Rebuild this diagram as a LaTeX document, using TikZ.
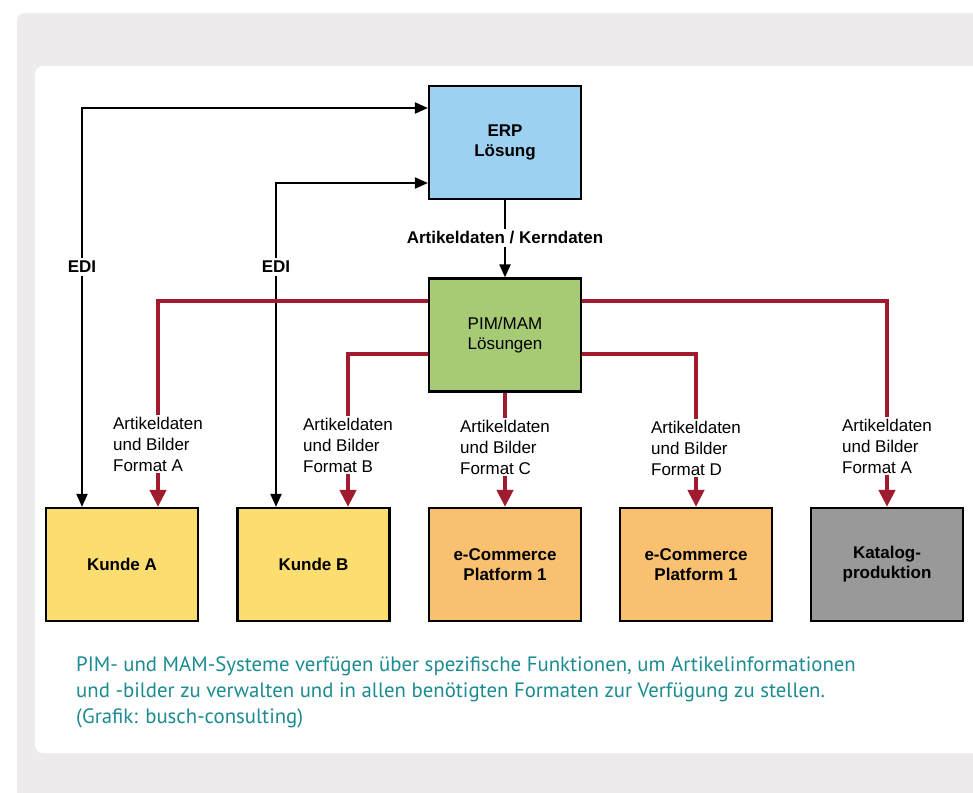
\documentclass[tikz,border=0pt]{standalone}
\usepackage{fontspec}
\setmainfont{Liberation Sans}
\newfontfamily\capfont{PT Sans}
\usetikzlibrary{arrows.meta}
\definecolor{bggray}{RGB}{237,235,236}
\definecolor{erpblue}{RGB}{157,209,241}
\definecolor{pimgreen}{RGB}{166,203,116}
\definecolor{kundeyellow}{RGB}{253,221,112}
\definecolor{ecorange}{RGB}{249,192,112}
\definecolor{katgray}{RGB}{153,153,153}
\definecolor{darkred}{RGB}{161,27,47}
\definecolor{capteal}{RGB}{28,140,145}
\tikzset{
  box/.style={draw=black, line width=2.2pt, minimum width=152pt, minimum height=113pt, inner sep=0pt, align=center, font=\fontsize{17}{20}\selectfont\bfseries},
  blk/.style={draw=black, line width=2pt},
  redl/.style={draw=darkred, line width=4.3pt},
  btip/.style={-{Triangle[length=13pt,width=11pt]}},
  rtip/.style={-{Triangle[length=17pt,width=16pt]}},
  lbl/.style={fill=white, align=left, inner sep=2pt, font=\fontsize{17}{21}\selectfont},
  edilbl/.style={fill=white, inner sep=3pt, font=\fontsize{17}{20}\selectfont\bfseries},
}
\begin{document}
\begin{tikzpicture}[x=1pt,y=-1pt]
\useasboundingbox (0,0) rectangle (973,792);
\begin{scope}
\clip (0,0) rectangle (973,792);
\fill[bggray, rounded corners=8pt] (17,13) rectangle (1010,820);
\fill[white, rounded corners=8pt] (35,66) rectangle (1010,753);
\end{scope}

% nodes
\node[box, fill=erpblue] (erp) at (505,142.5) {ERP\\Lösung};
\node[box, fill=pimgreen, font=\fontsize{17}{20}\selectfont] (pim) at (505,335) {PIM/MAM\\Lösungen};
\node[box, fill=kundeyellow] (kA) at (122,564.5) {Kunde A};
\node[box, fill=kundeyellow] (kB) at (313.5,564.5) {Kunde B};
\node[box, fill=ecorange] (ec1) at (505,564.5) {e-Commerce\\Platform 1};
\node[box, fill=ecorange] (ec2) at (696,564.5) {e-Commerce\\Platform 1};
\node[box, fill=katgray] (kat) at (887,564.5) {Katalog-\\produktion};

% black EDI connectors
\draw[blk, {Triangle[length=13pt,width=11pt]}-{Triangle[length=13pt,width=11pt]}] ([xshift=-40pt]kA.north) |- ([yshift=34.5pt]erp.west);
\draw[blk, {Triangle[length=13pt,width=11pt]}-{Triangle[length=13pt,width=11pt]}] ([xshift=-37.5pt]kB.north) |- ([yshift=-40.5pt]erp.west);
\node[edilbl] (edi1) at (82,267) {EDI};
\node[edilbl] (edi2) at (276,267) {EDI};

% ERP -> PIM
\draw[blk, btip] (erp.south) -- (pim.north);
\node[fill=white, inner sep=3pt, font=\fontsize{17}{20}\selectfont\bfseries] (kern) at (505,238) {Artikeldaten / Kerndaten};

% red connectors
\draw[redl, rtip] ([yshift=34pt]pim.west) -| ([xshift=36pt]kA.north);
\draw[redl, rtip] ([yshift=-19pt]pim.west) -| ([xshift=34.5pt]kB.north);
\draw[redl, rtip] (pim.south) -- (ec1.north);
\draw[redl, rtip] ([yshift=-19pt]pim.east) -| (ec2.north);
\draw[redl, rtip] ([yshift=34pt]pim.east) -| (kat.north);

\node[lbl] (lA) at (158,444) {Artikeldaten\\und Bilder\\Format A};
\node[lbl] (lB) at (348,445) {Artikeldaten\\und Bilder\\Format B};
\node[lbl] (lC) at (505,447) {Artikeldaten\\und Bilder\\Format C};
\node[lbl] (lD) at (696,448) {Artikeldaten\\und Bilder\\Format D};
\node[lbl] (lK) at (887,446) {Artikeldaten\\und Bilder\\Format A};

% caption
\node[anchor=north west, align=left, inner sep=0pt, text=capteal, font=\capfont\fontsize{20.8}{26}\selectfont] (cap) at (76,656) {PIM- und MAM-Systeme verfügen über spezifische Funktionen, um Artikelinformationen\\und -bilder zu verwalten und in allen benötigten Formaten zur Verfügung zu stellen.\\(Grafik: busch-consulting)};
\end{tikzpicture}
\end{document}
